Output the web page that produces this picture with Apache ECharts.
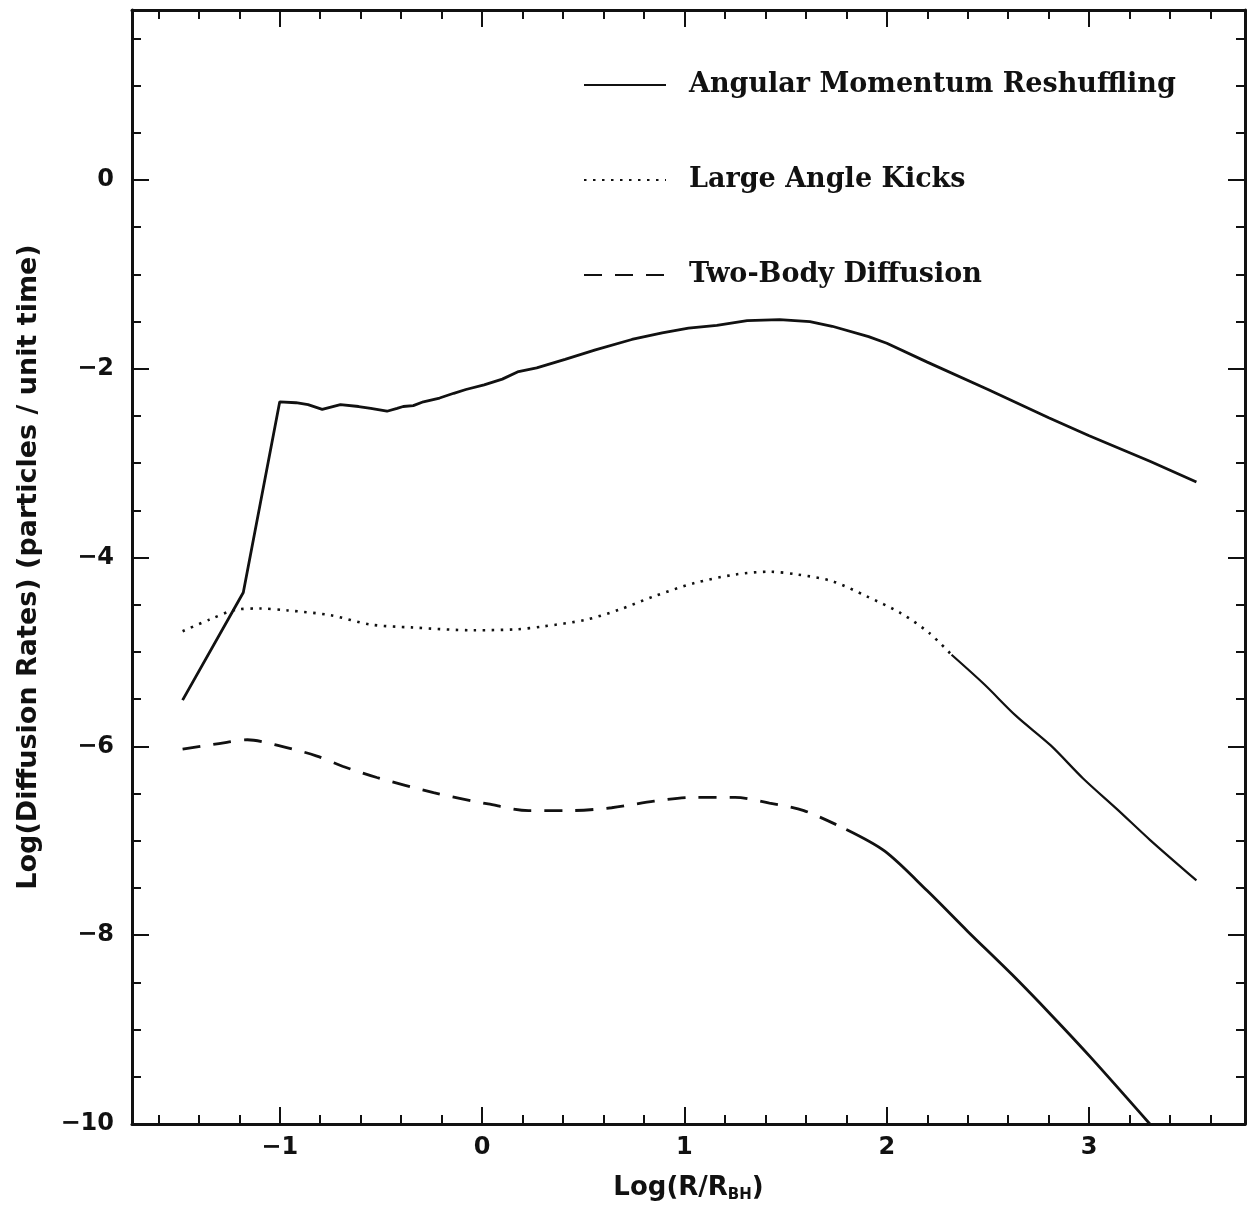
<!DOCTYPE html>
<html><head><meta charset="utf-8">
<script src="https://cdn.jsdelivr.net/npm/echarts@6/dist/echarts.min.js"></script>
<style>html,body{margin:0;padding:0;background:#fff}#c{width:1251px;height:1210px}</style>
</head><body><div id="c"></div>
<script>
// Angular Momentum Reshuffling (solid)
const amrX = [-1.48,-1.18,-1.00,-0.92,-0.86,-0.79,-0.70,-0.61,-0.55,-0.47,-0.42,-0.39,-0.34,-0.29,-0.21,-0.14,-0.08,0.01,0.10,0.18,0.27,0.41,0.56,0.74,0.89,1.02,1.16,1.31,1.47,1.62,1.73,1.91,2.00,2.20,2.50,2.80,3.00,3.30,3.53];
const amrY = [-5.51,-4.37,-2.35,-2.36,-2.38,-2.43,-2.38,-2.40,-2.42,-2.45,-2.42,-2.40,-2.39,-2.35,-2.31,-2.26,-2.22,-2.17,-2.11,-2.03,-1.99,-1.90,-1.80,-1.69,-1.62,-1.57,-1.54,-1.49,-1.48,-1.50,-1.55,-1.66,-1.73,-1.93,-2.22,-2.52,-2.71,-2.98,-3.20];
// Large Angle Kicks (dotted part, then solid continuation)
const lakX = [-1.48,-1.35,-1.21,-1.10,-0.96,-0.75,-0.55,-0.35,-0.04,0.17,0.30,0.51,0.68,0.85,1.05,1.25,1.42,1.56,1.73,1.90,2.07,2.21,2.32];
const lakY = [-4.78,-4.66,-4.55,-4.54,-4.56,-4.61,-4.71,-4.74,-4.77,-4.76,-4.73,-4.66,-4.55,-4.41,-4.27,-4.18,-4.15,-4.18,-4.25,-4.41,-4.59,-4.80,-5.03];
const lakTailX = [2.32,2.48,2.64,2.81,2.97,3.14,3.30,3.53];
const lakTailY = [-5.03,-5.34,-5.68,-5.99,-6.34,-6.67,-6.99,-7.42];
// Two-Body Diffusion (dashed part, then solid continuation)
const tbdX = [-1.48,-1.30,-1.16,-0.99,-0.82,-0.69,-0.52,-0.24,0.03,0.23,0.44,0.64,0.85,1.05,1.25,1.42,1.59,1.80];
const tbdY = [-6.03,-5.97,-5.93,-6.00,-6.10,-6.21,-6.33,-6.49,-6.61,-6.68,-6.68,-6.65,-6.58,-6.54,-6.54,-6.60,-6.68,-6.88];
const tbdTailX = [1.80,1.99,2.20,2.40,2.62,2.81,3.01,3.30];
const tbdTailY = [-6.88,-7.11,-7.53,-7.96,-8.42,-8.84,-9.30,-10.00];

const xMajor = [-1,0,1,2,3];
const xMinor = [-1.6,-1.4,-1.2,-0.8,-0.6,-0.4,-0.2,0.2,0.4,0.6,0.8,1.2,1.4,1.6,1.8,2.2,2.4,2.6,2.8,3.2,3.4,3.6];
const yMajor = [-10,-8,-6,-4,-2,0];
const yMinor = [-9.5,-9,-8.5,-7.5,-7,-6.5,-5.5,-5,-4.5,-3.5,-3,-2.5,-1.5,-1,-0.5,0.5,1,1.5];
const names = ['Angular Momentum Reshuffling','Large Angle Kicks','Two-Body Diffusion'];

const zip = (xs, ys) => xs.map((x, i) => [x, ys[i]]);
const INK = '#111';
const SANS = 'DejaVu Sans, Liberation Sans, Arial, sans-serif';
const fmt = v => String(v).replace('-', '\u2212');
const labelFont = {fontFamily:SANS, fontWeight:'bold', fontSize:24, color:INK};

function xAx(pos, ticks, len, major) {
  return {
    type:'value', position:pos, min:-1.73, max:3.77,
    axisLine:{show:major, onZero:false, lineStyle:{color:INK, width:3}},
    axisTick:{show:true, inside:true, length:len, customValues:ticks, lineStyle:{color:INK, width:2}},
    axisLabel:{show:major && pos==='bottom', customValues:ticks, formatter:fmt, margin:12, ...labelFont},
    splitLine:{show:false}
  };
}
function yAx(pos, ticks, len, major) {
  return {
    type:'value', position:pos, min:-10, max:1.8,
    axisLine:{show:major, onZero:false, lineStyle:{color:INK, width:3}},
    axisTick:{show:true, inside:true, length:len, customValues:ticks, lineStyle:{color:INK, width:2}},
    axisLabel:{show:major && pos==='left', customValues:ticks, formatter:fmt, margin:18, ...labelFont},
    splitLine:{show:false}
  };
}
const xAxes = [xAx('bottom', xMajor, 17, true), xAx('bottom', xMinor, 9, false), xAx('top', xMajor, 17, true), xAx('top', xMinor, 9, false)];
xAxes[0].name = '{a|Log(R/R}{s|BH}{a|)}';
xAxes[0].nameLocation = 'middle';
xAxes[0].nameGap = 50;
xAxes[0].nameTextStyle = {rich:{
  a:{fontFamily:SANS, fontWeight:'bold', fontSize:26, color:INK},
  s:{fontFamily:SANS, fontWeight:'bold', fontSize:15, color:INK, verticalAlign:'bottom', padding:[14,0,0,0]}
}};
const yAxes = [yAx('left', yMajor, 17, true), yAx('left', yMinor, 9, false), yAx('right', yMajor, 17, true), yAx('right', yMinor, 9, false)];
yAxes[0].name = 'Log(Diffusion Rates) (particles / unit time)';
yAxes[0].nameLocation = 'middle';
yAxes[0].nameGap = 90;
yAxes[0].nameTextStyle = {fontFamily:SANS, fontWeight:'bold', fontSize:27, color:INK};

const option = {
  animation:false,
  backgroundColor:'#fff',
  grid:{left:132, right:6, top:10, bottom:86, containLabel:false},
  xAxis:xAxes,
  yAxis:yAxes,
  legend:{
    orient:'vertical', left:583, top:70, padding:0, itemGap:65,
    itemWidth:82, itemHeight:14, data:names, selectedMode:false,
    itemStyle:{opacity:0},
    textStyle:{fontFamily:'DejaVu Serif, serif', fontWeight:'bold', fontSize:27, color:INK, lineHeight:30, padding:[0,0,0,18]}
  },
  series:[
    {name:names[0], type:'line', data:zip(amrX, amrY), symbol:'none', lineStyle:{color:INK, width:2.8, type:'solid'}, itemStyle:{color:INK}},
    {name:names[1], type:'line', data:zip(lakX, lakY), symbol:'none', smooth:0.3, lineStyle:{color:INK, width:2.6, type:[2.5,6.5]}, itemStyle:{color:INK}},
    {name:'lakTail', type:'line', data:zip(lakTailX, lakTailY), symbol:'none', smooth:0.3, lineStyle:{color:INK, width:2.2}, itemStyle:{color:INK}},
    {name:names[2], type:'line', data:zip(tbdX, tbdY), symbol:'none', smooth:0.3, lineStyle:{color:INK, width:2.8, type:[18,13]}, itemStyle:{color:INK}},
    {name:'tbdTail', type:'line', data:zip(tbdTailX, tbdTailY), symbol:'none', smooth:0.3, lineStyle:{color:INK, width:2.8}, itemStyle:{color:INK}}
  ]
};
const chart = echarts.init(document.getElementById('c'), null, {renderer:'canvas'});
chart.setOption(option);
</script>
</body></html>
